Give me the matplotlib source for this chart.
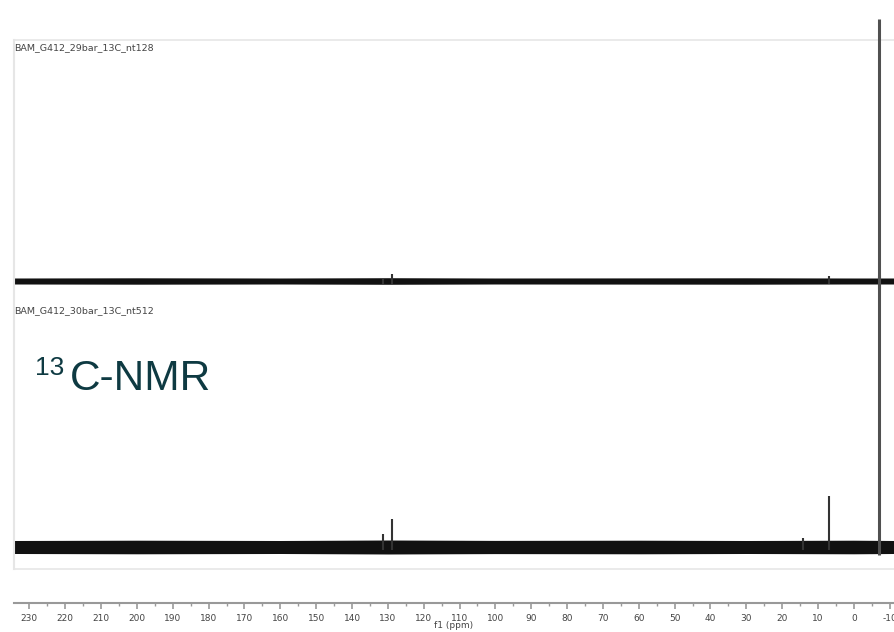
import numpy as np
import matplotlib.pyplot as plt
from matplotlib.ticker import MultipleLocator

plt.rcParams['axes.unicode_minus'] = False

# spectrum names
labels = ['BAM_G412_29bar_13C_nt128', 'BAM_G412_30bar_13C_nt512']

# baseline offsets of the two stacked spectra (arbitrary intensity units)
offsets = [322, 56]

# peaks: position (ppm) and height above baseline
peak_ppm = [[131.3, 128.8, 6.8, -7.1],
            [131.3, 128.8, 14.3, 6.8, -7.1]]
peak_height = [[2, 7, 5, 262],
               [13, 28, 9, 51, 272]]

# noise band half width read along the shift axis
noise_ppm = [234.3, 200, 160, 130, 100, 60, 30, 0, -11.2]
noise_half = [[3.0, 3.2, 3.0, 3.3, 3.0, 3.1, 3.2, 3.0, 3.0],
              [6.5, 6.8, 6.5, 7.0, 6.6, 6.8, 6.5, 6.8, 6.5]]

W, H = 894, 632
fig = plt.figure(figsize=(W / 100, H / 100), dpi=100)
ax = fig.add_axes([14 / W, 29 / H, 880 / W, 603 / H])
ax.set_xlim(234.3, -11.2)
ax.set_ylim(0, 603)

# light frame around the stacked spectra
ax.axhline(563, color='#e6e6e6', lw=1.2)
ax.axhline(34, color='#e6e6e6', lw=1.2)
ax.plot([234.3, 234.3], [34, 563], color='#e6e6e6', lw=1.5, clip_on=False)

for i in range(2):
    base = offsets[i]
    half = np.array(noise_half[i])
    ax.fill_between(noise_ppm, base - half, base + half,
                    color='#111111', lw=0)
    for p, h in zip(peak_ppm[i], peak_height[i]):
        if h > 100:
            ax.vlines(p, base - 8, base + h, color='#505050', lw=2.2,
                      clip_on=False, zorder=3)
        else:
            ax.vlines(p, base - 3, base + h, color='#333333', lw=1.5, zorder=3)

fig.text(14 / W, 1 - 48 / H, labels[0], fontsize=6.8, color='#444444',
         va='center', ha='left')
fig.text(14 / W, 1 - 311 / H, labels[1], fontsize=6.8, color='#444444',
         va='center', ha='left')

# title
fig.text(35 / W, 1 - 375 / H, '13', fontsize=19, color='#0e3a42',
         family='Liberation Sans', va='baseline')
fig.text(70 / W, 1 - 390 / H, 'C-NMR', fontsize=30.5, color='#0e3a42',
         family='Liberation Sans', va='baseline')

# shift axis
for s in ['left', 'right', 'top']:
    ax.spines[s].set_visible(False)
ax.spines['bottom'].set_color('#999999')
ax.spines['bottom'].set_linewidth(1.5)
ax.set_yticks([])
ax.xaxis.set_major_locator(MultipleLocator(10))
ax.xaxis.set_minor_locator(MultipleLocator(5))
ax.tick_params(axis='x', which='major', length=4, width=1.2, color='#999999',
               labelsize=6.5, labelcolor='#444444', pad=4)
ax.tick_params(axis='x', which='minor', length=2.5, width=1.0, color='#999999')
ax.set_xlabel('f1 (ppm)', fontsize=6.5, color='#444444', labelpad=-1.5)

fig.savefig('out.png', dpi=100)
